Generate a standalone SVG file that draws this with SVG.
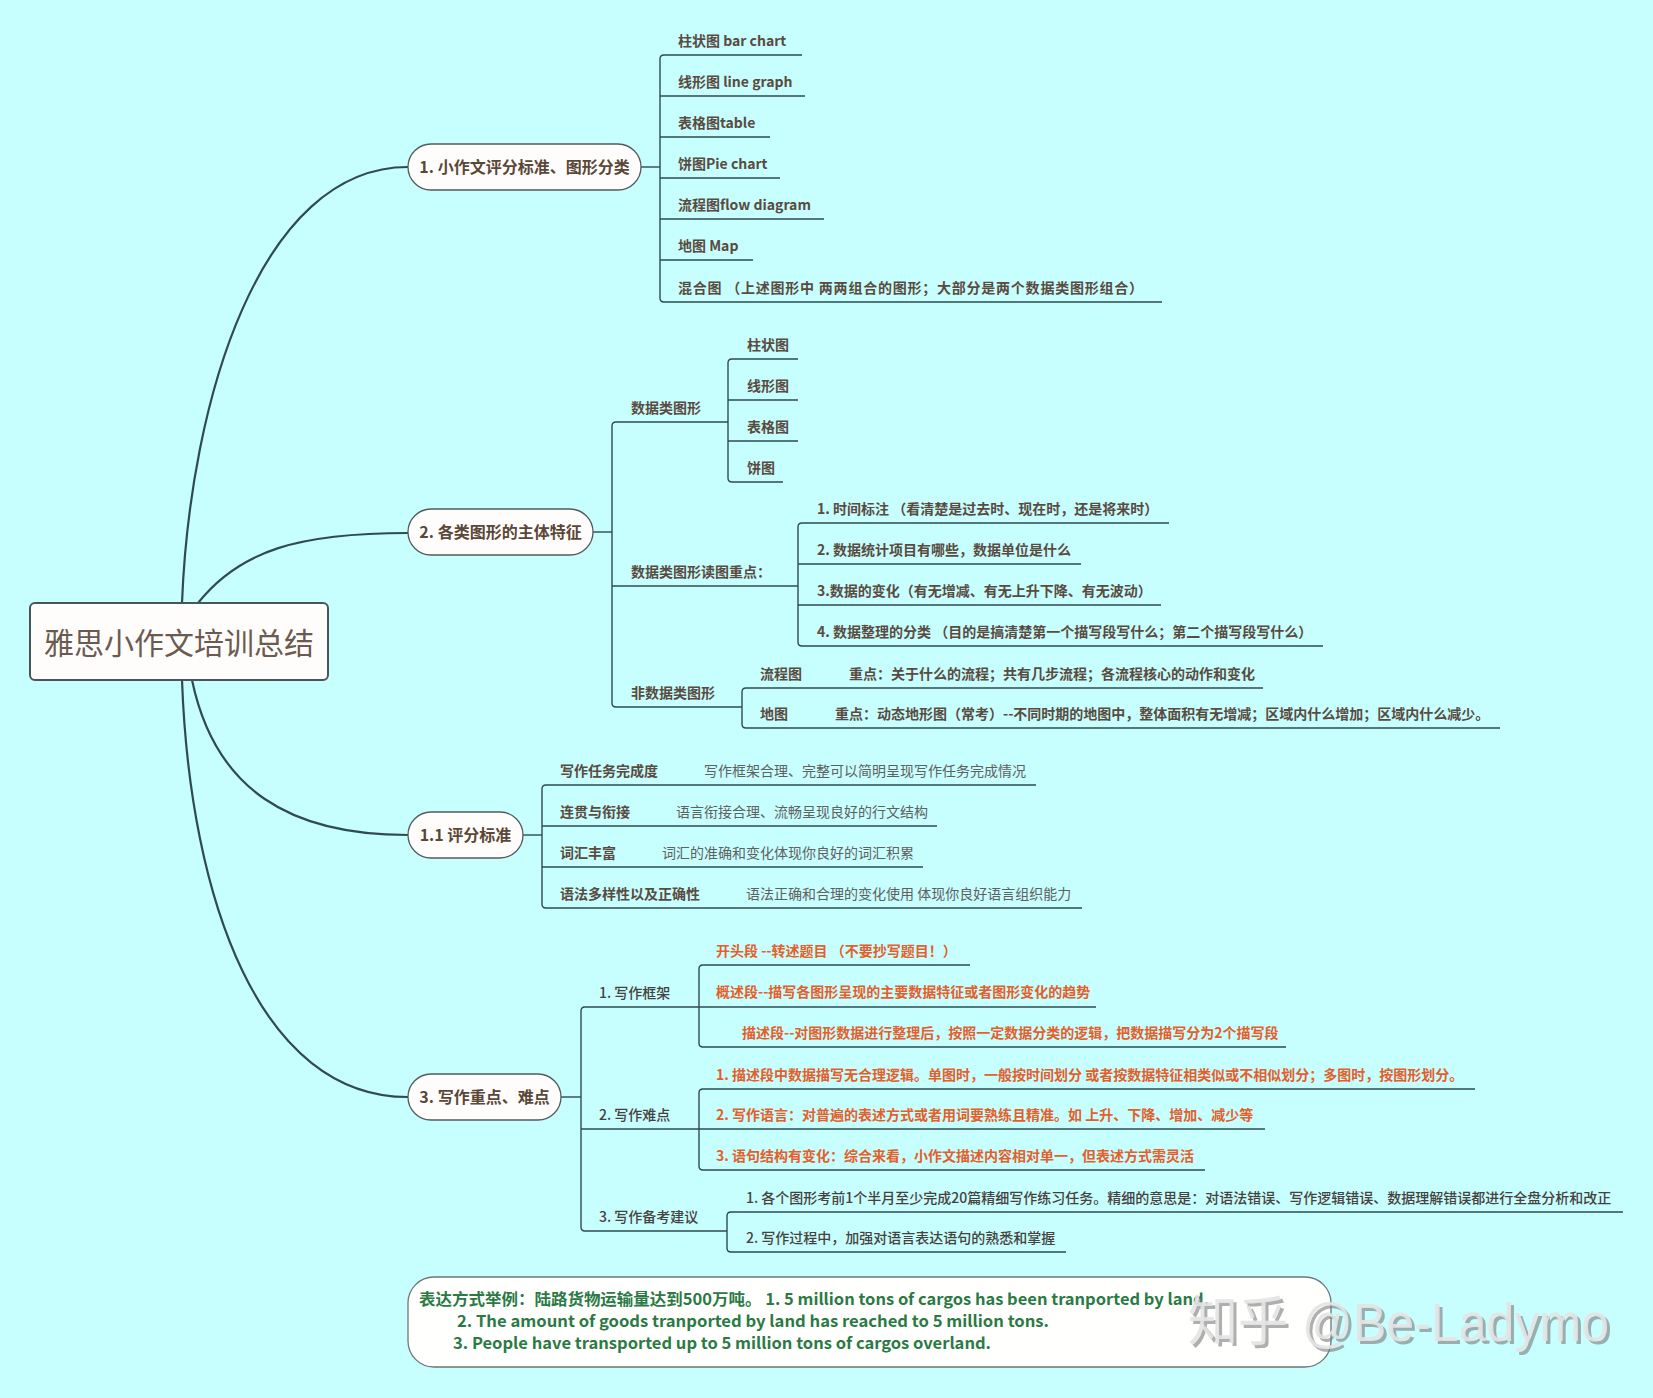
<svg xmlns="http://www.w3.org/2000/svg" width="1653" height="1398" viewBox="0 0 1653 1398">
<style>
.t{font-family:"Noto Sans CJK SC","Microsoft YaHei",sans-serif}
.b14{font-size:14px;font-weight:700;fill:#5a4b40}
.r14{font-size:14px;font-weight:400;fill:#606060}
.m14{font-size:14px;font-weight:500;fill:#46413c}
.o14{font-size:14px;font-weight:700;fill:#e45f2b}
.nt{font-size:16px;font-weight:700;fill:#5a4738}
.g16{font-size:16px;font-weight:700;fill:#2b7a45}
.node{fill:#fffdfb;stroke:#555a5a;stroke-width:1.3}
.main{fill:none;stroke:#2f4b50;stroke-width:2.2}
.br{fill:none;stroke:#2f4b50;stroke-width:1.4}
</style>
<rect x="0" y="0" width="1653" height="1398" fill="#c7fefe"/>

<g id="connectors">
  <path class="main" d="M182,603 C190,400 260,167 408,167"/>
  <path class="main" d="M198,603 C240,550 300,533 408,533"/>
  <path class="main" d="M192,680 C215,790 290,835 408,835"/>
  <path class="main" d="M182,680 C190,900 260,1097 408,1097"/>

  <path class="br" d="M641,167 H660"/>
  <path class="br" d="M802,55 H664 Q660,55 660,59 V298 Q660,302 664,302 H1162"/>
  <path class="br" d="M660,96 H805 M660,137 H770 M660,178 H780 M660,219 H824 M660,260 H753"/>

  <path class="br" d="M593,532 H612"/>
  <path class="br" d="M728,422 H616 Q612,422 612,426 V703 Q612,707 616,707 H742"/>
  <path class="br" d="M612,586 H798"/>
  <path class="br" d="M798,359 H732 Q728,359 728,363 V478 Q728,482 732,482 H783"/>
  <path class="br" d="M728,400 H798 M728,441 H798"/>
  <path class="br" d="M1169,523 H802 Q798,523 798,527 V642 Q798,646 802,646 H1323"/>
  <path class="br" d="M798,564 H1081 M798,605 H1161"/>
  <path class="br" d="M1263,688 H746 Q742,688 742,692 V724 Q742,728 746,728 H1500"/>

  <path class="br" d="M523,835 H542"/>
  <path class="br" d="M1036,785 H546 Q542,785 542,789 V904 Q542,908 546,908 H1082"/>
  <path class="br" d="M542,826 H937 M542,867 H923"/>

  <path class="br" d="M561,1097 H581"/>
  <path class="br" d="M699,1007 H585 Q581,1007 581,1011 V1227 Q581,1231 585,1231 H727"/>
  <path class="br" d="M581,1129 H699"/>
  <path class="br" d="M970,965 H703 Q699,965 699,969 V1043 Q699,1047 703,1047 H1286"/>
  <path class="br" d="M699,1007 H1096"/>
  <path class="br" d="M1475,1089 H703 Q699,1089 699,1093 V1166 Q699,1170 703,1170 H1205"/>
  <path class="br" d="M699,1129 H1265"/>
  <path class="br" d="M1623,1212 H731 Q727,1212 727,1216 V1248 Q727,1252 731,1252 H1066"/>
</g>

<g id="root">
  <rect x="30" y="603" width="298" height="77" rx="5" fill="#fffdfb" stroke="#4a5656" stroke-width="2"/>
  <text class="t" x="179" y="654" text-anchor="middle" font-size="30" fill="#6b5a50">雅思小作文培训总结</text>
</g>

<g id="node1">
  <rect class="node" x="408" y="144" width="233" height="46" rx="23"/>
  <text class="t nt" x="524.5" y="173" text-anchor="middle">1. 小作文评分标准、图形分类</text>
</g>
<g id="node1-children" class="t b14">
  <text x="678" y="46">柱状图 bar chart</text>
  <text x="678" y="87">线形图 line graph</text>
  <text x="678" y="128">表格图table</text>
  <text x="678" y="169">饼图Pie chart</text>
  <text x="678" y="210">流程图flow diagram</text>
  <text x="678" y="251">地图 Map</text>
  <text x="678" y="293" textLength="465" lengthAdjust="spacing">混合图  （上述图形中 两两组合的图形；大部分是两个数据类图形组合）</text>
</g>

<g id="node2">
  <rect class="node" x="408" y="509" width="185" height="46" rx="23"/>
  <text class="t nt" x="500.5" y="538" text-anchor="middle">2. 各类图形的主体特征</text>
</g>
<g id="node2-children" class="t b14">
  <text x="631" y="413">数据类图形</text>
  <text x="631" y="577">数据类图形读图重点：</text>
  <text x="631" y="698">非数据类图形</text>
  <text x="747" y="350">柱状图</text>
  <text x="747" y="391">线形图</text>
  <text x="747" y="432">表格图</text>
  <text x="747" y="473">饼图</text>
  <text x="817" y="514">1. 时间标注 （看清楚是过去时、现在时，还是将来时）</text>
  <text x="817" y="555">2. 数据统计项目有哪些，数据单位是什么</text>
  <text x="817" y="596">3.数据的变化（有无增减、有无上升下降、有无波动）</text>
  <text x="817" y="637">4. 数据整理的分类 （目的是搞清楚第一个描写段写什么；第二个描写段写什么）</text>
  <text x="760" y="679">流程图</text>
  <text x="849" y="679">重点：关于什么的流程；共有几步流程；各流程核心的动作和变化</text>
  <text x="760" y="719">地图</text>
  <text x="835" y="719">重点：动态地形图（常考）--不同时期的地图中，整体面积有无增减；区域内什么增加；区域内什么减少。</text>
</g>

<g id="node3">
  <rect class="node" x="408" y="812" width="115" height="46" rx="23"/>
  <text class="t nt" x="465.5" y="841" text-anchor="middle">1.1 评分标准</text>
</g>
<g id="node3-children" class="t">
  <text class="b14" x="560" y="776">写作任务完成度</text>
  <text class="r14" x="704" y="776">写作框架合理、完整可以简明呈现写作任务完成情况</text>
  <text class="b14" x="560" y="817">连贯与衔接</text>
  <text class="r14" x="676" y="817">语言衔接合理、流畅呈现良好的行文结构</text>
  <text class="b14" x="560" y="858">词汇丰富</text>
  <text class="r14" x="662" y="858">词汇的准确和变化体现你良好的词汇积累</text>
  <text class="b14" x="560" y="899">语法多样性以及正确性</text>
  <text class="r14" x="746" y="899">语法正确和合理的变化使用 体现你良好语言组织能力</text>
</g>

<g id="node4">
  <rect class="node" x="408" y="1074" width="153" height="46" rx="23"/>
  <text class="t nt" x="484.5" y="1103" text-anchor="middle">3. 写作重点、难点</text>
</g>
<g id="node4-children" class="t">
  <text class="m14" x="599" y="998">1. 写作框架</text>
  <text class="m14" x="599" y="1120">2. 写作难点</text>
  <text class="m14" x="599" y="1222">3. 写作备考建议</text>
  <text class="o14" x="716" y="956">开头段 --转述题目 （不要抄写题目！）</text>
  <text class="o14" x="716" y="997">概述段--描写各图形呈现的主要数据特征或者图形变化的趋势</text>
  <text class="o14" x="742" y="1038">描述段--对图形数据进行整理后，按照一定数据分类的逻辑，把数据描写分为2个描写段</text>
  <text class="o14" x="716" y="1080">1. 描述段中数据描写无合理逻辑。单图时，一般按时间划分 或者按数据特征相类似或不相似划分；多图时，按图形划分。</text>
  <text class="o14" x="716" y="1120">2. 写作语言：对普遍的表述方式或者用词要熟练且精准。如 上升、下降、增加、减少等</text>
  <text class="o14" x="716" y="1161">3. 语句结构有变化：综合来看，小作文描述内容相对单一，但表述方式需灵活</text>
  <text class="m14" x="746" y="1203">1. 各个图形考前1个半月至少完成20篇精细写作练习任务。精细的意思是：对语法错误、写作逻辑错误、数据理解错误都进行全盘分析和改正</text>
  <text class="m14" x="746" y="1243">2. 写作过程中，加强对语言表达语句的熟悉和掌握</text>
</g>

<g id="example">
  <rect x="408" y="1277" width="923" height="90" rx="26" fill="#fffffe" stroke="#6e7676" stroke-width="1.3"/>
  <text class="t g16" x="419" y="1305" textLength="790" lengthAdjust="spacingAndGlyphs">表达方式举例：陆路货物运输量达到500万吨。 1.  5 million tons of cargos has been tranported by land.</text>
  <text class="t g16" x="457" y="1327" textLength="592" lengthAdjust="spacingAndGlyphs">2. The amount of goods tranported by land has reached to 5 million tons.</text>
  <text class="t g16" x="453" y="1349" textLength="538" lengthAdjust="spacingAndGlyphs">3. People have transported up to 5 million tons of cargos overland.</text>
</g>

<g id="watermark">
  <text x="1191" y="1344" font-family="'Liberation Sans','Noto Sans CJK SC',sans-serif" font-size="54" fill="#7a7a7a" fill-opacity="0.6" textLength="421" lengthAdjust="spacingAndGlyphs">知乎 @Be-Ladymo</text>
  <text x="1188" y="1341" font-family="'Liberation Sans','Noto Sans CJK SC',sans-serif" font-size="54" fill="#e4e4e4" fill-opacity="0.92" textLength="421" lengthAdjust="spacingAndGlyphs">知乎 @Be-Ladymo</text>
</g>
</svg>
